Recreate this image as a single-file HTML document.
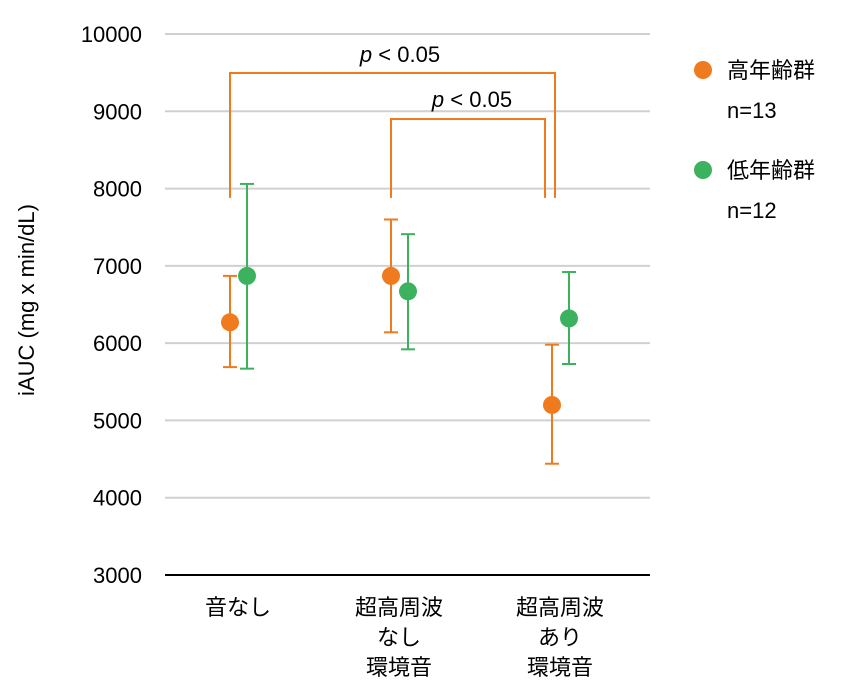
<!DOCTYPE html>
<html><head><meta charset="utf-8"><style>
body{margin:0;background:#fff}
svg{display:block;font-family:"Liberation Sans","Noto Sans CJK JP",sans-serif}
</style></head><body>
<svg id="chart" width="850" height="700"></svg>
<script>
const categories=[["音なし"],["超高周波","なし","環境音"],["超高周波","あり","環境音"]];
const olderMean=[6270,6870,5200];
const olderLow=[5690,6140,4440];
const olderHigh=[6870,7600,5980];
const youngerMean=[6870,6670,6320];
const youngerLow=[5670,5920,5730];
const youngerHigh=[8060,7410,6920];
const yTicks=[3000,4000,5000,6000,7000,8000,9000,10000];
const ORANGE="#F07A1E",GREEN="#3CB15E";
const svg=document.getElementById('chart');
const NS="http://www.w3.org/2000/svg";
function y(v){return 575-(v-3000)*(541/7000);}
function xc(i){return 238+i*161;}
function el(tag,attrs,name,text){const e=document.createElementNS(NS,tag);for(const k in attrs)e.setAttribute(k,attrs[k]);


if(text!==undefined)e.textContent=text;svg.appendChild(e);return e;}
yTicks.forEach(t=>{
 if(t>3000)el('line',{x1:165,x2:650,y1:y(t),y2:y(t),stroke:'#d0d0d0','stroke-width':2},'gridline');
 el('text',{x:142,y:y(t)+8,'text-anchor':'end','font-size':22,fill:'#000'},'y-tick-label',t);
});
el('line',{x1:165,x2:650,y1:575,y2:575,stroke:'#000','stroke-width':2},'x-axis');
el('text',{x:0,y:0,transform:'translate(34,300) rotate(-90)','text-anchor':'middle','font-size':22},'y-axis-title','iAUC (mg x min/dL)');
categories.forEach((c,i)=>c.forEach((s,j)=>el('text',{x:xc(i),y:615+j*30,'text-anchor':'middle','font-size':22},'x-tick-label',s)));
function series(m,lo,hi,off,col,nm){
 m.forEach((v,i)=>{const x=xc(i)+off;
  el('line',{x1:x,x2:x,y1:y(lo[i]),y2:y(hi[i]),stroke:col,'stroke-width':2},nm+'-error-bar');
  el('line',{x1:x-7,x2:x+7,y1:y(lo[i]),y2:y(lo[i]),stroke:col,'stroke-width':2},nm+'-error-cap');
  el('line',{x1:x-7,x2:x+7,y1:y(hi[i]),y2:y(hi[i]),stroke:col,'stroke-width':2},nm+'-error-cap');
  el('circle',{cx:x,cy:y(v),r:9,fill:col},nm+'-point');
 });
}
series(olderMean,olderLow,olderHigh,-8,ORANGE,'older');
series(youngerMean,youngerLow,youngerHigh,9,GREEN,'younger');
el('path',{d:`M230 ${y(7880)} V73 H555 V${y(7880)}`,fill:'none',stroke:ORANGE,'stroke-width':2},'significance-bracket-outer');
el('path',{d:`M391 ${y(7880)} V119 H545 V${y(7880)}`,fill:'none',stroke:ORANGE,'stroke-width':2},'significance-bracket-inner');
const t1=el('text',{x:400,y:62,'text-anchor':'middle','font-size':22},'p-value-label-outer');
t1.innerHTML='<tspan font-style="italic">p</tspan> &lt; 0.05';
const t2=el('text',{x:472,y:107,'text-anchor':'middle','font-size':22},'p-value-label-inner');
t2.innerHTML='<tspan font-style="italic">p</tspan> &lt; 0.05';
el('circle',{cx:703,cy:70,r:9,fill:ORANGE},'legend-marker-older');
el('text',{x:727,y:78,'font-size':22},'legend-label-older','高年齢群');
el('text',{x:727,y:118,'font-size':22},'legend-n-older','n=13');
el('circle',{cx:703,cy:170,r:9,fill:GREEN},'legend-marker-younger');
el('text',{x:727,y:178,'font-size':22},'legend-label-younger','低年齢群');
el('text',{x:727,y:218,'font-size':22},'legend-n-younger','n=12');
</script>
</body></html>
